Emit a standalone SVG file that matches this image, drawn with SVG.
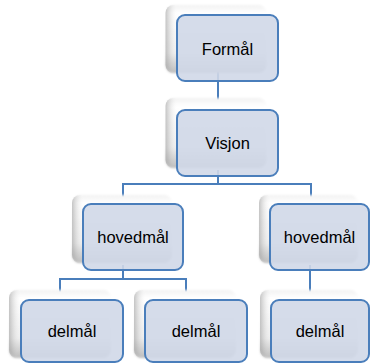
<svg xmlns="http://www.w3.org/2000/svg" width="370" height="363" viewBox="0 0 370 363">
  <defs>
    <linearGradient id="backV" x1="0" y1="0" x2="0" y2="1">
      <stop offset="0" stop-color="#f2f2f2"/>
      <stop offset="0.12" stop-color="#ffffff"/>
      <stop offset="0.7" stop-color="#efefef"/>
      <stop offset="1" stop-color="#b8b8b8"/>
    </linearGradient>
    <linearGradient id="backH" x1="0" y1="0" x2="1" y2="0">
      <stop offset="0" stop-color="#8a8a8a" stop-opacity="0.5"/>
      <stop offset="0.12" stop-color="#ffffff" stop-opacity="0"/>
      <stop offset="1" stop-color="#ffffff" stop-opacity="0"/>
    </linearGradient>
    <filter id="soft" x="-20%" y="-20%" width="140%" height="140%">
      <feGaussianBlur stdDeviation="1"/>
    </filter>
  </defs>
  <style>
    .conn { fill: none; stroke: #4a7ebb; stroke-width: 2; }
    .back1 { fill: url(#backV); filter: url(#soft); }
    .back2 { fill: url(#backH); }
    .front { fill: #d0d8e8; fill-opacity: 0.9; stroke: #4a7ebb; stroke-width: 2; }
    .label { font-family: "Liberation Sans", Arial, sans-serif; font-size: 16.5px; fill: #000; text-anchor: middle; }
  </style>

  <g id="connectors">
    <path class="conn" d="M218,70 V110"/>
    <path class="conn" d="M218,170 V184 M123,184 H311 M123,183 V204 M311,183 V204"/>
    <path class="conn" d="M123,265 V279 M60,279 H186 M60,278 V300 M186,278 V300"/>
    <path class="conn" d="M310,265 V300"/>
  </g>

  <g id="node-formal">
    <rect class="back1" x="165.5" y="5" width="101" height="68" rx="8"/>
    <rect class="back2" x="165.5" y="5" width="101" height="68" rx="8"/>
    <rect class="front" x="177" y="15" width="101" height="66" rx="8"/>
    <text class="label" x="227.5" y="55">Formål</text>
  </g>

  <g id="node-visjon">
    <rect class="back1" x="165.5" y="98" width="101" height="70" rx="8"/>
    <rect class="back2" x="165.5" y="98" width="101" height="70" rx="8"/>
    <rect class="front" x="177" y="110" width="101" height="66" rx="8"/>
    <text class="label" x="227.5" y="149">Visjon</text>
  </g>

  <g id="node-hovedmal-1">
    <rect class="back1" x="72" y="195" width="100" height="68" rx="8"/>
    <rect class="back2" x="72" y="195" width="100" height="68" rx="8"/>
    <rect class="front" x="83" y="204" width="100" height="66" rx="8"/>
    <text class="label" x="133" y="243">hovedmål</text>
  </g>

  <g id="node-hovedmal-2">
    <rect class="back1" x="259" y="195" width="99" height="68" rx="8"/>
    <rect class="back2" x="259" y="195" width="99" height="68" rx="8"/>
    <rect class="front" x="270" y="204" width="99" height="66" rx="8"/>
    <text class="label" x="319.5" y="243">hovedmål</text>
  </g>

  <g id="node-delmal-1">
    <rect class="back1" x="9" y="290" width="102" height="68" rx="8"/>
    <rect class="back2" x="9" y="290" width="102" height="68" rx="8"/>
    <rect class="front" x="21" y="300" width="102" height="62" rx="8"/>
    <text class="label" x="72" y="337">delmål</text>
  </g>

  <g id="node-delmal-2">
    <rect class="back1" x="134" y="290" width="102" height="68" rx="8"/>
    <rect class="back2" x="134" y="290" width="102" height="68" rx="8"/>
    <rect class="front" x="145" y="300" width="102" height="62" rx="8"/>
    <text class="label" x="196" y="337">delmål</text>
  </g>

  <g id="node-delmal-3">
    <rect class="back1" x="260" y="290" width="98" height="68" rx="8"/>
    <rect class="back2" x="260" y="290" width="98" height="68" rx="8"/>
    <rect class="front" x="271" y="300" width="98" height="62" rx="8"/>
    <text class="label" x="320" y="337">delmål</text>
  </g>
</svg>
